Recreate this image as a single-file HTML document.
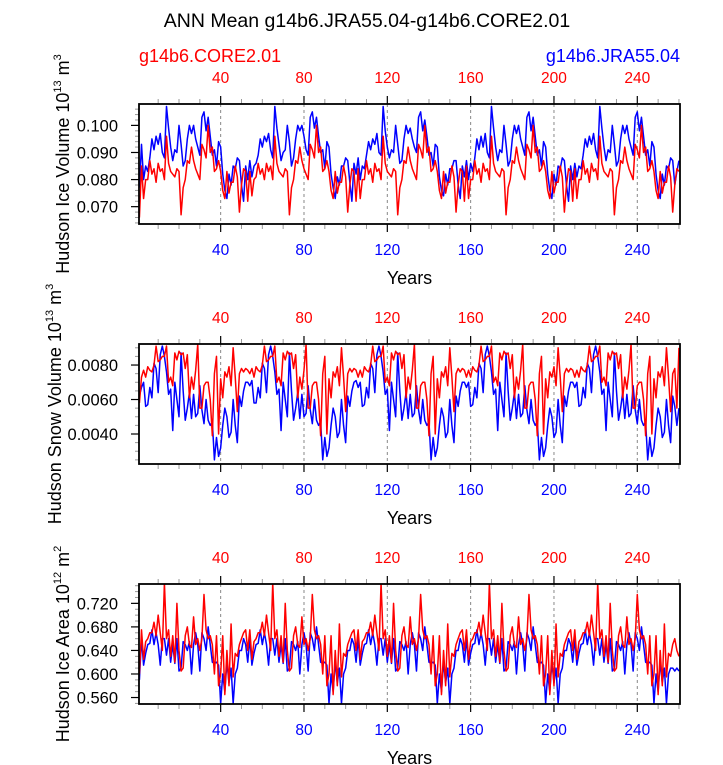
<!DOCTYPE html>
<html><head><meta charset="utf-8"><style>
html,body{margin:0;padding:0;background:#fff;}
svg{display:block;font-family:"Liberation Sans",Arial,sans-serif;}
</style></head><body>
<svg id="chart" width="723" height="765" viewBox="0 0 723 765" xmlns="http://www.w3.org/2000/svg">
<text x="367" y="27" font-size="19.5" text-anchor="middle">ANN Mean g14b6.JRA55.04-g14b6.CORE2.01</text>
<text x="139" y="62" font-size="18" fill="#ff0000">g14b6.CORE2.01</text>
<text x="680" y="62" font-size="18" fill="#0000ff" text-anchor="end">g14b6.JRA55.04</text>
</svg>
<script>
const years = [];
for (let i = 1; i <= 260; i++) years.push(i);
const xTicks = [40, 80, 120, 160, 200, 240];

const jraIceVol = [
0.077,0.093,0.080,0.085,0.083,0.088,0.095,0.091,0.096,0.093,0.097,0.090,0.088,0.107,0.099,0.092,0.087,0.091,0.090,0.100,0.093,0.085,0.087,0.095,0.100,0.097,0.100,0.095,0.092,0.089,0.103,0.105,0.098,0.103,0.096,0.089,0.091,0.085,0.094,0.092,0.082,0.076,0.073,0.082,0.078,0.085,0.084,0.088,0.087,0.078,0.072,0.085,
0.080,0.087,0.081,0.085,0.086,0.089,0.095,0.092,0.096,0.094,0.097,0.091,0.088,0.107,0.099,0.093,0.087,0.090,0.091,0.100,0.094,0.085,0.088,0.095,0.100,0.098,0.100,0.096,0.091,0.089,0.103,0.105,0.099,0.103,0.096,0.090,0.091,0.084,0.094,0.092,0.082,0.077,0.073,0.081,0.078,0.085,0.085,0.088,0.087,0.079,0.072,0.086,
0.082,0.088,0.080,0.085,0.084,0.089,0.094,0.091,0.095,0.093,0.097,0.090,0.089,0.107,0.098,0.092,0.088,0.091,0.090,0.100,0.093,0.086,0.087,0.095,0.100,0.097,0.099,0.095,0.092,0.090,0.103,0.105,0.098,0.102,0.096,0.089,0.090,0.085,0.093,0.092,0.081,0.076,0.074,0.082,0.078,0.084,0.084,0.087,0.087,0.078,0.073,0.085,
0.081,0.087,0.080,0.086,0.083,0.088,0.095,0.091,0.096,0.092,0.097,0.090,0.088,0.107,0.099,0.092,0.087,0.091,0.090,0.100,0.093,0.085,0.087,0.095,0.100,0.097,0.100,0.095,0.092,0.089,0.103,0.105,0.098,0.103,0.096,0.089,0.091,0.085,0.094,0.092,0.082,0.076,0.073,0.082,0.078,0.085,0.084,0.088,0.087,0.078,0.072,0.085,
0.080,0.086,0.081,0.085,0.084,0.089,0.095,0.092,0.096,0.093,0.097,0.091,0.088,0.107,0.099,0.092,0.087,0.091,0.090,0.100,0.093,0.085,0.087,0.095,0.100,0.097,0.100,0.095,0.092,0.089,0.103,0.105,0.098,0.103,0.096,0.089,0.091,0.085,0.094,0.092,0.082,0.076,0.073,0.082,0.078,0.085,0.084,0.088,0.087,0.078,0.083,0.087];
const coreIceVol = [
0.066,0.085,0.073,0.080,0.080,0.087,0.082,0.084,0.079,0.086,0.083,0.084,0.080,0.096,0.086,0.083,0.082,0.081,0.084,0.083,0.067,0.077,0.080,0.087,0.086,0.092,0.087,0.084,0.082,0.080,0.093,0.091,0.088,0.100,0.090,0.092,0.083,0.084,0.087,0.083,0.076,0.073,0.083,0.075,0.079,0.079,0.085,0.081,0.068,0.078,0.084,0.083,
0.072,0.083,0.074,0.080,0.081,0.086,0.082,0.084,0.080,0.086,0.083,0.085,0.080,0.096,0.086,0.083,0.082,0.081,0.084,0.083,0.067,0.077,0.080,0.087,0.086,0.092,0.087,0.084,0.082,0.080,0.093,0.091,0.088,0.100,0.090,0.092,0.083,0.084,0.087,0.083,0.076,0.073,0.083,0.075,0.079,0.079,0.085,0.081,0.068,0.078,0.084,0.083,
0.072,0.084,0.073,0.080,0.080,0.087,0.082,0.084,0.079,0.086,0.083,0.084,0.080,0.096,0.086,0.083,0.082,0.081,0.084,0.083,0.067,0.077,0.080,0.087,0.086,0.092,0.087,0.084,0.082,0.080,0.093,0.091,0.088,0.100,0.090,0.092,0.083,0.084,0.087,0.083,0.076,0.073,0.083,0.075,0.079,0.079,0.085,0.081,0.068,0.078,0.084,0.083,
0.072,0.085,0.073,0.080,0.080,0.087,0.082,0.084,0.079,0.086,0.083,0.084,0.080,0.096,0.086,0.083,0.082,0.081,0.084,0.083,0.067,0.077,0.080,0.087,0.086,0.092,0.087,0.084,0.082,0.080,0.093,0.091,0.088,0.100,0.090,0.092,0.083,0.084,0.087,0.083,0.076,0.073,0.083,0.075,0.079,0.079,0.085,0.081,0.068,0.078,0.084,0.083,
0.072,0.084,0.073,0.080,0.080,0.087,0.082,0.084,0.079,0.086,0.083,0.084,0.080,0.096,0.086,0.083,0.082,0.081,0.084,0.083,0.067,0.077,0.080,0.087,0.086,0.092,0.087,0.084,0.082,0.080,0.093,0.091,0.088,0.100,0.090,0.092,0.083,0.084,0.087,0.083,0.076,0.073,0.083,0.075,0.079,0.079,0.085,0.081,0.068,0.078,0.084,0.083];
const jraSnow = [
0.0062,0.0067,0.0070,0.0056,0.0057,0.0067,0.0061,0.0081,0.0078,0.0064,0.0086,0.0091,0.0085,0.0076,0.0063,0.0066,0.0042,0.0070,0.0060,0.0050,0.0087,0.0065,0.0048,0.0055,0.0064,0.0049,0.0063,0.0050,0.0052,0.0068,0.0054,0.0046,0.0060,0.0048,0.0045,0.0047,0.0025,0.0038,0.0027,0.0032,0.0045,0.0055,0.0050,0.0038,0.0041,0.0060,0.0045,0.0035,0.0062,0.0056,0.0065,0.0070,
0.0070,0.0068,0.0071,0.0058,0.0058,0.0067,0.0061,0.0081,0.0078,0.0064,0.0086,0.0091,0.0085,0.0076,0.0063,0.0066,0.0042,0.0070,0.0060,0.0050,0.0087,0.0065,0.0048,0.0055,0.0064,0.0049,0.0063,0.0050,0.0052,0.0068,0.0054,0.0046,0.0060,0.0048,0.0045,0.0047,0.0025,0.0038,0.0027,0.0032,0.0045,0.0055,0.0050,0.0038,0.0041,0.0060,0.0045,0.0035,0.0062,0.0056,0.0065,0.0070,
0.0071,0.0067,0.0070,0.0056,0.0057,0.0067,0.0061,0.0081,0.0078,0.0064,0.0086,0.0091,0.0085,0.0076,0.0063,0.0066,0.0042,0.0070,0.0060,0.0050,0.0087,0.0065,0.0048,0.0055,0.0064,0.0049,0.0063,0.0050,0.0052,0.0068,0.0054,0.0046,0.0060,0.0048,0.0045,0.0047,0.0025,0.0038,0.0027,0.0032,0.0045,0.0055,0.0050,0.0038,0.0041,0.0060,0.0045,0.0035,0.0062,0.0056,0.0065,0.0070,
0.0070,0.0067,0.0070,0.0056,0.0057,0.0067,0.0061,0.0081,0.0078,0.0064,0.0086,0.0091,0.0085,0.0076,0.0063,0.0066,0.0042,0.0070,0.0060,0.0050,0.0087,0.0065,0.0048,0.0055,0.0064,0.0049,0.0063,0.0050,0.0052,0.0068,0.0054,0.0046,0.0060,0.0048,0.0045,0.0047,0.0025,0.0038,0.0027,0.0032,0.0045,0.0055,0.0050,0.0038,0.0041,0.0060,0.0045,0.0035,0.0062,0.0056,0.0065,0.0070,
0.0070,0.0067,0.0070,0.0056,0.0057,0.0067,0.0061,0.0081,0.0078,0.0064,0.0086,0.0091,0.0085,0.0076,0.0063,0.0066,0.0042,0.0070,0.0060,0.0050,0.0087,0.0065,0.0048,0.0055,0.0064,0.0049,0.0063,0.0050,0.0052,0.0068,0.0054,0.0046,0.0060,0.0048,0.0045,0.0047,0.0025,0.0038,0.0027,0.0032,0.0045,0.0055,0.0050,0.0038,0.0041,0.0060,0.0045,0.0035,0.0062,0.0056,0.0045,0.0055];
const coreSnow = [
0.0058,0.0073,0.0077,0.0073,0.0079,0.0077,0.0076,0.0080,0.0091,0.0082,0.0083,0.0085,0.0085,0.0091,0.0070,0.0073,0.0068,0.0087,0.0083,0.0088,0.0086,0.0087,0.0078,0.0086,0.0061,0.0073,0.0066,0.0077,0.0092,0.0055,0.0055,0.0068,0.0070,0.0070,0.0060,0.0039,0.0075,0.0085,0.0040,0.0072,0.0061,0.0076,0.0073,0.0079,0.0068,0.0090,0.0073,0.0053,0.0075,0.0078,0.0076,0.0078,
0.0077,0.0075,0.0078,0.0073,0.0079,0.0077,0.0076,0.0080,0.0091,0.0082,0.0083,0.0085,0.0085,0.0091,0.0070,0.0073,0.0068,0.0087,0.0083,0.0088,0.0086,0.0087,0.0078,0.0086,0.0061,0.0073,0.0066,0.0077,0.0092,0.0055,0.0055,0.0068,0.0070,0.0070,0.0060,0.0039,0.0075,0.0085,0.0040,0.0072,0.0061,0.0076,0.0073,0.0079,0.0068,0.0090,0.0073,0.0053,0.0075,0.0078,0.0076,0.0078,
0.0077,0.0073,0.0077,0.0073,0.0079,0.0077,0.0076,0.0080,0.0091,0.0082,0.0083,0.0085,0.0085,0.0091,0.0070,0.0073,0.0068,0.0087,0.0083,0.0088,0.0086,0.0087,0.0078,0.0086,0.0061,0.0073,0.0066,0.0077,0.0092,0.0055,0.0055,0.0068,0.0070,0.0070,0.0060,0.0039,0.0075,0.0085,0.0040,0.0072,0.0061,0.0076,0.0073,0.0079,0.0068,0.0090,0.0073,0.0053,0.0075,0.0078,0.0076,0.0078,
0.0077,0.0073,0.0077,0.0073,0.0079,0.0077,0.0076,0.0080,0.0091,0.0082,0.0083,0.0085,0.0085,0.0091,0.0070,0.0073,0.0068,0.0087,0.0083,0.0088,0.0086,0.0087,0.0078,0.0086,0.0061,0.0073,0.0066,0.0077,0.0092,0.0055,0.0055,0.0068,0.0070,0.0070,0.0060,0.0039,0.0075,0.0085,0.0040,0.0072,0.0061,0.0076,0.0073,0.0079,0.0068,0.0090,0.0073,0.0053,0.0075,0.0078,0.0076,0.0078,
0.0077,0.0073,0.0077,0.0073,0.0079,0.0077,0.0076,0.0080,0.0091,0.0082,0.0083,0.0085,0.0085,0.0091,0.0070,0.0073,0.0068,0.0087,0.0083,0.0088,0.0086,0.0087,0.0078,0.0086,0.0061,0.0073,0.0066,0.0077,0.0092,0.0055,0.0055,0.0068,0.0070,0.0070,0.0060,0.0039,0.0075,0.0085,0.0040,0.0072,0.0061,0.0076,0.0073,0.0079,0.0068,0.0090,0.0073,0.0053,0.0075,0.0078,0.0055,0.0090];
const jraArea = [
0.590,0.660,0.615,0.635,0.650,0.652,0.675,0.650,0.670,0.650,0.615,0.660,0.660,0.632,0.660,0.620,0.650,0.618,0.660,0.605,0.610,0.655,0.650,0.640,0.655,0.600,0.650,0.670,0.650,0.605,0.670,0.660,0.640,0.680,0.650,0.620,0.618,0.620,0.615,0.550,0.600,0.570,0.620,0.585,0.610,0.550,0.600,0.610,0.640,0.640,0.660,0.650,
0.620,0.660,0.615,0.635,0.650,0.652,0.675,0.650,0.670,0.650,0.615,0.660,0.660,0.632,0.660,0.620,0.650,0.618,0.660,0.605,0.610,0.655,0.650,0.640,0.655,0.600,0.650,0.670,0.650,0.605,0.670,0.660,0.640,0.680,0.650,0.620,0.618,0.620,0.615,0.550,0.600,0.570,0.620,0.585,0.610,0.550,0.600,0.610,0.640,0.640,0.660,0.650,
0.620,0.660,0.615,0.635,0.650,0.652,0.675,0.650,0.670,0.650,0.615,0.660,0.660,0.632,0.660,0.620,0.650,0.618,0.660,0.605,0.610,0.655,0.650,0.640,0.655,0.600,0.650,0.670,0.650,0.605,0.670,0.660,0.640,0.680,0.650,0.620,0.618,0.620,0.615,0.550,0.600,0.570,0.620,0.585,0.610,0.550,0.600,0.610,0.640,0.640,0.660,0.650,
0.620,0.660,0.615,0.635,0.650,0.652,0.675,0.650,0.670,0.650,0.615,0.660,0.660,0.632,0.660,0.620,0.650,0.618,0.660,0.605,0.610,0.655,0.650,0.640,0.655,0.600,0.650,0.670,0.650,0.605,0.670,0.660,0.640,0.680,0.650,0.620,0.618,0.620,0.615,0.550,0.600,0.570,0.620,0.585,0.610,0.550,0.600,0.610,0.640,0.640,0.660,0.650,
0.620,0.660,0.615,0.635,0.650,0.652,0.675,0.650,0.670,0.650,0.615,0.660,0.660,0.632,0.660,0.620,0.650,0.618,0.660,0.605,0.610,0.655,0.650,0.640,0.655,0.600,0.650,0.670,0.650,0.605,0.670,0.660,0.640,0.680,0.650,0.620,0.618,0.620,0.615,0.550,0.600,0.570,0.620,0.585,0.610,0.550,0.600,0.610,0.610,0.605,0.610,0.605];
const coreArea = [
0.600,0.675,0.625,0.655,0.660,0.670,0.670,0.688,0.665,0.700,0.670,0.640,0.755,0.660,0.675,0.630,0.665,0.620,0.720,0.640,0.605,0.610,0.665,0.680,0.650,0.645,0.697,0.650,0.660,0.640,0.660,0.735,0.675,0.660,0.665,0.650,0.600,0.665,0.580,0.600,0.665,0.565,0.640,0.580,0.685,0.595,0.635,0.630,0.650,0.660,0.670,0.675,
0.640,0.675,0.625,0.655,0.660,0.670,0.670,0.688,0.665,0.700,0.670,0.640,0.755,0.660,0.675,0.630,0.665,0.620,0.720,0.640,0.605,0.610,0.665,0.680,0.650,0.645,0.697,0.650,0.660,0.640,0.660,0.735,0.675,0.660,0.665,0.650,0.600,0.665,0.580,0.600,0.665,0.565,0.640,0.580,0.685,0.595,0.635,0.630,0.650,0.660,0.670,0.675,
0.640,0.675,0.625,0.655,0.660,0.670,0.670,0.688,0.665,0.700,0.670,0.640,0.755,0.660,0.675,0.630,0.665,0.620,0.720,0.640,0.605,0.610,0.665,0.680,0.650,0.645,0.697,0.650,0.660,0.640,0.660,0.735,0.675,0.660,0.665,0.650,0.600,0.665,0.580,0.600,0.665,0.565,0.640,0.580,0.685,0.595,0.635,0.630,0.650,0.660,0.670,0.675,
0.640,0.675,0.625,0.655,0.660,0.670,0.670,0.688,0.665,0.700,0.670,0.640,0.755,0.660,0.675,0.630,0.665,0.620,0.720,0.640,0.605,0.610,0.665,0.680,0.650,0.645,0.697,0.650,0.660,0.640,0.660,0.735,0.675,0.660,0.665,0.650,0.600,0.665,0.580,0.600,0.665,0.565,0.640,0.580,0.685,0.595,0.635,0.630,0.650,0.660,0.670,0.675,
0.640,0.675,0.625,0.655,0.660,0.670,0.670,0.688,0.665,0.700,0.670,0.640,0.755,0.660,0.675,0.630,0.665,0.620,0.720,0.640,0.605,0.610,0.665,0.680,0.650,0.645,0.697,0.650,0.660,0.640,0.660,0.735,0.675,0.660,0.665,0.650,0.600,0.665,0.580,0.600,0.665,0.565,0.640,0.580,0.685,0.595,0.635,0.630,0.650,0.660,0.640,0.630];

const vol1Ticks = [0.070, 0.080, 0.090, 0.100];
const vol1Labels = ["0.070", "0.080", "0.090", "0.100"];
const snowTicks = [0.004, 0.006, 0.008];
const snowLabels = ["0.0040", "0.0060", "0.0080"];
const areaTicks = [0.56, 0.60, 0.64, 0.68, 0.72];
const areaLabels = ["0.560", "0.600", "0.640", "0.680", "0.720"];

const NS = "http://www.w3.org/2000/svg";
const svg = document.getElementById("chart");
const X0 = 139, X1 = 680, XMIN = 0.8, XMAX = 260.5;
function xs(v){ return X0 + (v - XMIN) / (XMAX - XMIN) * (X1 - X0); }
function mk(tag, attrs, parent){
  const e = document.createElementNS(NS, tag);
  for (const k in attrs) e.setAttribute(k, attrs[k]);
  (parent || svg).appendChild(e);
  return e;
}

const panels = [
  {key:"ice-volume", top:104, bot:224, ymin:0.0636, ymax:0.1079, ticks:vol1Ticks, labels:vol1Labels, minor:0.002, jra:jraIceVol, core:coreIceVol, title:"Hudson Ice Volume 10", exp1:"13", unit:" m", exp2:"3", tx:63},
  {key:"snow-volume", top:344, bot:464, ymin:0.00226, ymax:0.00922, ticks:snowTicks, labels:snowLabels, minor:0.0005, jra:jraSnow, core:coreSnow, title:"Hudson Snow Volume 10", exp1:"13", unit:" m", exp2:"3", tx:55},
  {key:"ice-area", top:584, bot:704, ymin:0.549, ymax:0.7529, ticks:areaTicks, labels:areaLabels, minor:0.01, jra:jraArea, core:coreArea, title:"Hudson Ice Area 10", exp1:"12", unit:" m", exp2:"2", tx:63}
];

panels.forEach(function(p){
  const g = mk("g", {});
  
  
  function ys(v){ return p.bot - (v - p.ymin) / (p.ymax - p.ymin) * (p.bot - p.top); }
  xTicks.forEach(function(t){
    const l = mk("line", {x1:xs(t), x2:xs(t), y1:p.top, y2:p.bot, stroke:"#888", "stroke-width":1, "stroke-dasharray":"3,3"}, g);
    
    
  });
  for (let t = 10; t <= 260; t += 10) {
    const major = xTicks.indexOf(t) >= 0;
    const len = major ? 8 : 5;
    mk("line", {x1:xs(t), x2:xs(t), y1:p.top, y2:p.top - len, stroke: major ? "#000" : "#999", "stroke-width": major ? 1.2 : 1}, g);
    mk("line", {x1:xs(t), x2:xs(t), y1:p.bot, y2:p.bot + len, stroke: major ? "#000" : "#999", "stroke-width": major ? 1.2 : 1}, g);
  }
  xTicks.forEach(function(t){
    const a = mk("text", {x:xs(t), y:p.top - 21, "font-size":15.5, fill:"#ff0000", "text-anchor":"middle"}, g);
    a.textContent = t;
    
    
    const b = mk("text", {x:xs(t), y:p.bot + 31, "font-size":15.5, fill:"#0000ff", "text-anchor":"middle"}, g);
    b.textContent = t;
    
    
  });
  const start = Math.ceil(p.ymin / p.minor - 1e-6);
  for (let k = start; k * p.minor <= p.ymax + 1e-9; k++) {
    mk("line", {x1:X0, x2:X0 - 4, y1:ys(k * p.minor), y2:ys(k * p.minor), stroke:"#999", "stroke-width":1}, g);
  }
  p.ticks.forEach(function(t, i){
    mk("line", {x1:X0, x2:X0 - 8, y1:ys(t), y2:ys(t), stroke:"#000", "stroke-width":1.2}, g);
    const lab = mk("text", {x:X0 - 21, y:ys(t) + 6, "font-size":16.5, "text-anchor":"end"}, g);
    lab.textContent = p.labels[i];
    
    
  });
  const clipId = "clip-" + p.key;
  const cp = mk("clipPath", {id:clipId}, g);
  mk("rect", {x:X0, y:p.top, width:X1 - X0, height:p.bot - p.top}, cp);
  function line(arr, color, name){
    let d = "";
    arr.forEach(function(v, i){ d += (i ? "L" : "M") + xs(years[i]).toFixed(2) + "," + ys(v).toFixed(2); });
    const pth = mk("path", {d:d, fill:"none", stroke:color, "stroke-width":1.5, "stroke-linejoin":"round", "clip-path":"url(#" + clipId + ")"}, g);
    
    
  }
  line(p.jra, "#0000ff", p.key + "-jra-line");
  line(p.core, "#ff0000", p.key + "-core-line");
  const fr = mk("rect", {x:X0, y:p.top, width:X1 - X0, height:p.bot - p.top, fill:"none", stroke:"#000", "stroke-width":1.8}, g);
  
  
  const xt = mk("text", {x:(X0 + X1) / 2, y:p.bot + 60, "font-size":18, "text-anchor":"middle"}, g);
  xt.textContent = "Years";
  
  
  const cy = (p.top + p.bot) / 2;
  const yt = mk("text", {x:0, y:0, "font-size":18, "text-anchor":"middle", transform:"translate(" + (p.tx + 6) + "," + cy + ") rotate(-90)"}, g);
  
  
  const s1 = mk("tspan", {}, yt); s1.textContent = p.title;
  const s2 = mk("tspan", {dy:-8, "font-size":11}, yt); s2.textContent = p.exp1;
  const s3 = mk("tspan", {dy:8}, yt); s3.textContent = p.unit;
  const s4 = mk("tspan", {dy:-8, "font-size":11}, yt); s4.textContent = p.exp2;
});
</script>
</body></html>
